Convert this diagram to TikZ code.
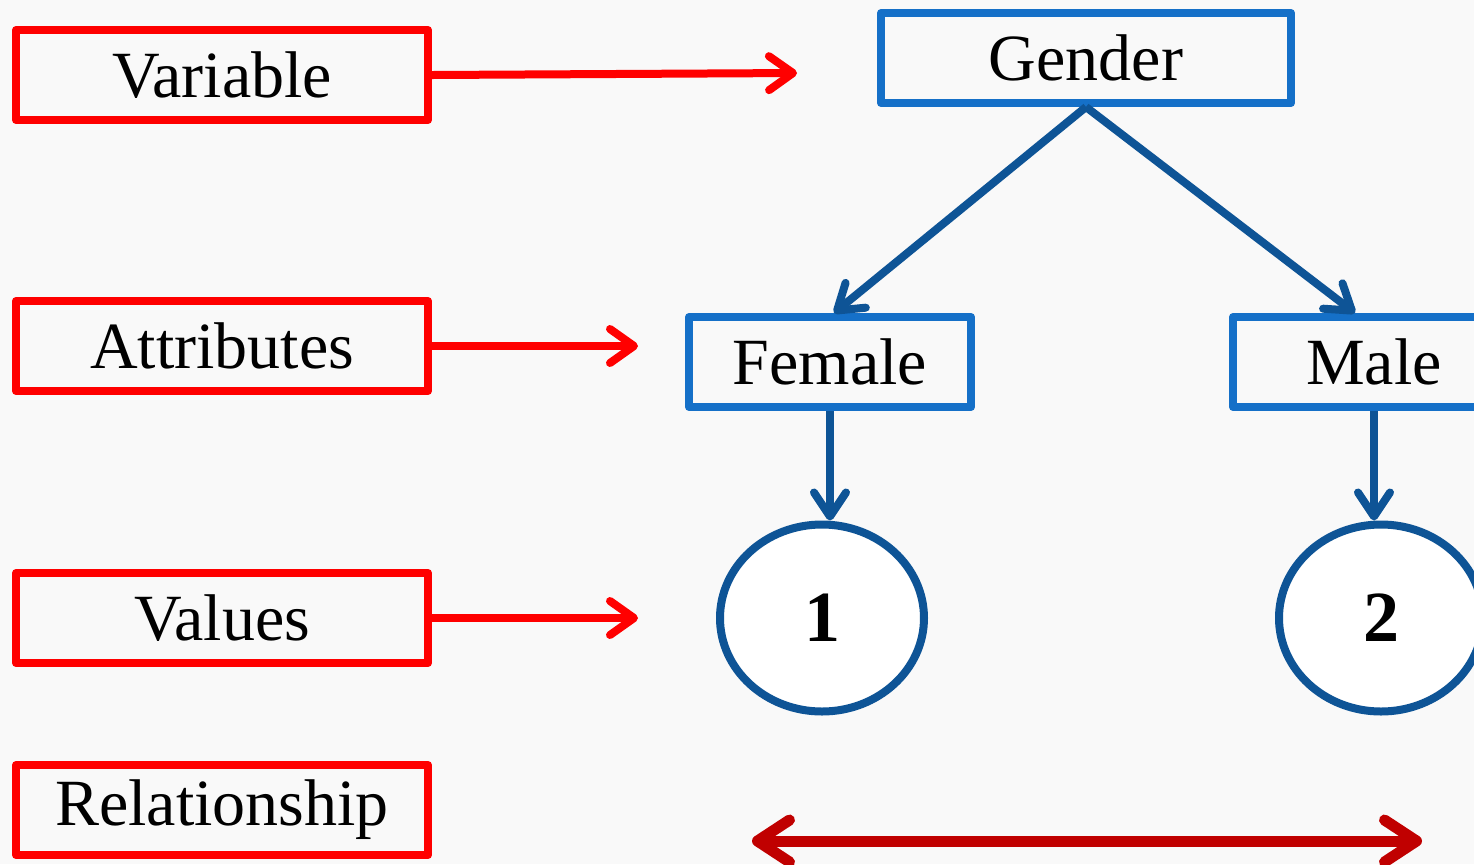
\documentclass[tikz,border=0pt]{standalone}
\usepackage{fontspec}
\setmainfont{Liberation Serif}
\usepackage{tikz}
\usetikzlibrary{arrows.meta,shapes.geometric}

\definecolor{boxred}{HTML}{FF0000}
\definecolor{boxblue}{HTML}{1570C8}
\definecolor{linkblue}{HTML}{0E5496}
\definecolor{darkred}{HTML}{C00000}
\definecolor{paper}{HTML}{F9F9F9}

\begin{document}
\begin{tikzpicture}[x=0.5pt,y=-0.5pt]
    \tikzstyle{term} = [rectangle, draw=boxred, line width=4pt, line join=round, minimum width=206pt, minimum height=45pt, text centered, font=\fontsize{33}{38}\selectfont]
    \tikzstyle{attrbox} = [rectangle, draw=boxblue, line width=4pt, line join=round, minimum height=45pt, text centered, font=\fontsize{33}{38}\selectfont]
    \tikzstyle{valnode} = [ellipse, draw=linkblue, fill=white, line width=4pt, minimum width=102pt, minimum height=93.5pt, inner sep=0pt, font=\fontsize{36}{40}\selectfont\bfseries]
    \tikzstyle{pointer} = [boxred, line width=4pt, line cap=round, -{Straight Barb[length=12pt,width=17pt,round]}]
    \tikzstyle{link} = [linkblue, line width=4pt, -{Straight Barb[length=12pt,width=16pt,round]}]
    \tikzstyle{both} = [darkred, line width=5.5pt, {Straight Barb[length=16pt,width=21pt,round]}-{Straight Barb[length=16pt,width=21pt,round]}]

    \useasboundingbox (0,0) rectangle (1474,864);
    \clip (0,0) rectangle (1474,864);
    \fill[paper] (0,0) rectangle (1474,864);

    % left column
    \node (variable) [term] at (222,75) {Variable};
    \node (attributes) [term] at (222,346) {Attributes};
    \node (values) [term] at (222,618) {Values};
    \node (relationship) [term] at (222,810) {Relationship};

    % tree
    \node (gender) [attrbox, minimum width=205pt] at (1086,58) {Gender};
    \node (female) [attrbox, minimum width=141pt] at (830,362) {Female};
    \node (male) [attrbox, minimum width=141pt] at (1374,362) {Male};
    \node (one) [valnode] at (822,618) {1};
    \node (two) [valnode] at (1381,618) {2};

    \coordinate (varend) at (797,73);
    \coordinate (attrend) at (638,346);
    \coordinate (valend) at (638,618);
    \coordinate (relleft) at (752,841);
    \coordinate (relright) at (1422,841);

    \draw [pointer] (variable.east) -- (varend);
    \draw [pointer] (attributes.east) -- (attrend);
    \draw [pointer] (values.east) -- (valend);

    \draw [link] (gender.south) -- ([xshift=2pt]female.north);
    \draw [link] (gender.south) -- ([xshift=-9.5pt]male.north);
    \draw [link] (female.south) -- (female.south |- one.north);
    \draw [link] (male.south) -- (male.south |- two.north);

    \draw [both] (relleft) -- (relright);
\end{tikzpicture}
\end{document}
